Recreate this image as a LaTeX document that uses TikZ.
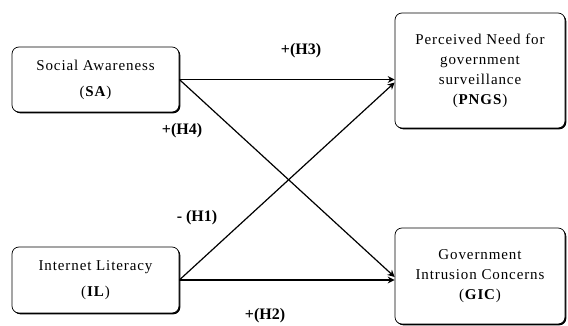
\documentclass[tikz,border=0pt]{standalone}
\usepackage{fontspec}
\setmainfont{Liberation Serif}
\usetikzlibrary{arrows.meta,shadows,calc}
\begin{document}
\begin{tikzpicture}[x=1pt,y=1pt,
  box/.style={draw=black,line width=0.7pt,rounded corners=7pt,fill=white,
    align=center,font=\fontsize{15}{20}\selectfont\addfontfeature{LetterSpace=6},inner sep=2pt,
    drop shadow={opacity=1,fill=black,shadow xshift=1.3pt,shadow yshift=-1.3pt}},
  wide/.style={font=\fontsize{15}{26}\selectfont\addfontfeature{LetterSpace=6}},
  link/.style={line width=1.4pt,-{Stealth[length=7pt,width=7pt]}},
  lab/.style={font=\fontsize{16}{18}\selectfont\bfseries,inner sep=0pt}]
\useasboundingbox (0,0) rectangle (568,326);
\node[box,wide,minimum width=167pt,minimum height=65pt] (sa) at (95.5,246.5)
  {Social Awareness\\(\textbf{SA})};
\node[box,wide,minimum width=167pt,minimum height=66pt] (il) at (95.5,46)
  {Internet Literacy\\(\textbf{IL})};
\node[box,minimum width=170pt,minimum height=115pt] (pngs) at (480,255.5)
  {Perceived Need for\\government\\surveillance\\(\textbf{PNGS})};
\node[box,minimum width=170pt,minimum height=96pt] (gic) at (480,50)
  {Government\\Intrusion Concerns\\(\textbf{GIC})};
\coordinate (p1) at ($(sa.east -| pngs.west)$);
\coordinate (p2) at ($(p1)+(0,-3)$);
\coordinate (g2) at ($(il.east -| gic.west)$);
\coordinate (g1) at ($(g2)+(0,3)$);
\draw[link] (sa.east) -- (p1);
\draw[link,line width=1.2pt] (sa.east) -- (g1);
\draw[link,line width=1.2pt] (il.east) -- (p2);
\draw[link] (il.east) -- (g2);
\node[lab] (h3) at (301,275) {+(H3)};
\node[lab] (h4) at (182,195) {+(H4)};
\node[lab] (h1) at (197,108) {- (H1)};
\node[lab] (h2) at (265,10) {+(H2)};
\end{tikzpicture}
\end{document}
